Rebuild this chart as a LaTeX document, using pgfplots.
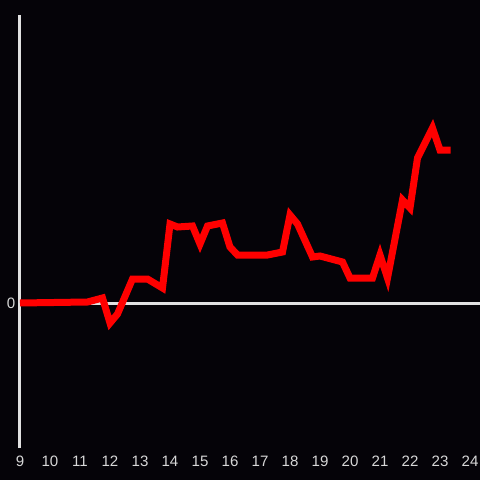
\documentclass[border=0pt]{standalone}
\usepackage{fontspec}
\setmainfont{Liberation Sans}
\usepackage{pgfplots}
\pgfplotsset{compat=1.18}
\definecolor{bg}{RGB}{5,3,8}
\definecolor{axisgray}{RGB}{225,225,225}
\definecolor{labelgray}{RGB}{215,215,215}
\definecolor{linered}{RGB}{255,0,0}
\begin{document}
\begin{tikzpicture}
\fill[bg] (0pt,0pt) rectangle (360pt,360pt);
\begin{axis}[
    at={(15pt,24pt)},
    anchor=south west,
    scale only axis,
    width=345pt,
    height=324.75pt,
    xmin=9, xmax=24.333,
    ymin=-145, ymax=288,
    axis x line*=bottom,
    axis y line*=left,
    x axis line style={draw=none},
    y axis line style={draw=axisgray, line width=2.25pt, -},
    xtick={9,...,24},
    ytick={0},
    major tick length=0pt,
    tick label style={font=\fontsize{11.3}{13}\selectfont, text=labelgray},
    x tick label style={yshift=-2.5pt},
    /pgf/number format/assume math mode=true,
    clip=false,
]
\addplot[draw=axisgray, line width=2.25pt, forget plot] coordinates {(9,0) (24.333,0)};
\addplot[draw=linered, line width=5.25pt] coordinates {
    (9,0) (11.25,1) (11.75,5) (12,-20) (12.25,-11) (12.75,24) (13.25,24)
    (13.75,15) (14,79) (14.25,76) (14.75,77) (15,59) (15.25,77) (15.75,80)
    (16,56) (16.25,48) (17.25,48) (17.75,51) (18,88) (18.25,79) (18.75,46)
    (19,47) (19.75,41) (20,25) (20.75,25) (21,48) (21.25,25) (21.75,103)
    (22,95) (22.25,145) (22.75,175) (23,153) (23.35,153)
};
\end{axis}
\pgfresetboundingbox
\useasboundingbox (0pt,0pt) rectangle (360pt,360pt);
\end{tikzpicture}
\end{document}
